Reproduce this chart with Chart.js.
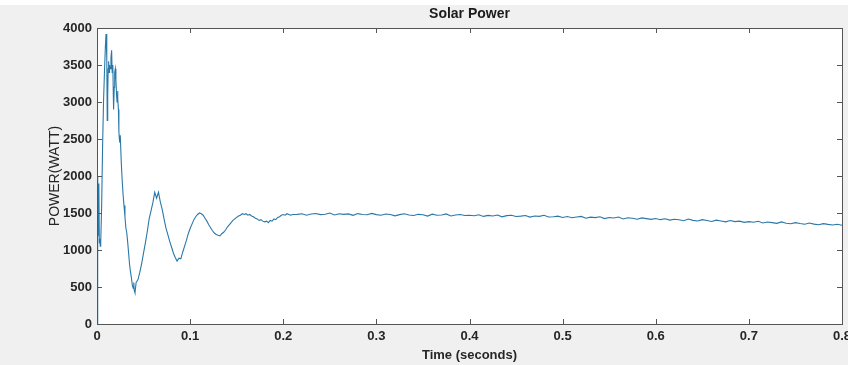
<!DOCTYPE html>
<html lang="en">
<head>
<meta charset="UTF-8">
<title>Solar Power</title>
<script src="https://cdn.jsdelivr.net/npm/chart.js@4.4.1/dist/chart.umd.min.js"></script>
<style>
  html, body { margin: 0; padding: 0; background: #f0f0f0; }
  #wrap { width: 848px; height: 365px; }
</style>
</head>
<body>
<div id="wrap"><canvas id="grafico" width="848" height="365"></canvas></div>
<script>
// start-up transient (s, W)
const timeA = [0, 0.0005, 0.001, 0.0015, 0.002, 0.0025, 0.003, 0.0035, 0.004, 0.005,
  0.006, 0.007, 0.008, 0.009, 0.0097, 0.0105, 0.011, 0.0115, 0.012, 0.0125,
  0.013, 0.0135, 0.014, 0.015, 0.0157, 0.0163, 0.017, 0.0178, 0.0185, 0.019,
  0.0197, 0.0203, 0.021, 0.0215, 0.022, 0.0225, 0.023, 0.0235, 0.024, 0.0245,
  0.025, 0.026, 0.027, 0.028, 0.029, 0.030, 0.031, 0.032, 0.033, 0.034,
  0.035, 0.036, 0.037, 0.038, 0.039, 0.0395, 0.040, 0.0408, 0.0415];
const powerA = [0, 1900, 2000, 1200, 1900, 1100, 1150, 1050, 1100, 1600,
  2400, 3000, 3400, 3750, 3920, 3600, 2750, 3100, 3450, 3550,
  3400, 3500, 3450, 3600, 3700, 3400, 3500, 2900, 3200, 3400,
  3450, 3300, 3100, 3000, 3150, 3050, 2900, 2600, 2500, 2450,
  2550, 2200, 1950, 1750, 1600, 1450, 1300, 1230, 1100, 950,
  800, 700, 620, 520, 480, 560, 450, 420, 500];

// damped oscillation
const timeB = [0.042, 0.044, 0.046, 0.048, 0.050, 0.052, 0.054, 0.056, 0.058, 0.060,
  0.062, 0.064, 0.066, 0.068, 0.070, 0.072, 0.074, 0.076, 0.078, 0.080,
  0.082, 0.084, 0.086, 0.088, 0.090, 0.092, 0.094, 0.096, 0.098, 0.100,
  0.102, 0.104, 0.106, 0.108, 0.110, 0.112, 0.114, 0.116, 0.118, 0.120,
  0.122, 0.124, 0.126, 0.128, 0.130, 0.132, 0.134, 0.136, 0.138, 0.140,
  0.142, 0.144, 0.146, 0.148, 0.150, 0.152, 0.154, 0.156, 0.158, 0.160,
  0.162, 0.164, 0.166, 0.168, 0.170, 0.172, 0.174, 0.176, 0.178, 0.180,
  0.182, 0.184, 0.186, 0.188, 0.190, 0.192, 0.194, 0.196, 0.198, 0.200,
  0.202, 0.204, 0.206, 0.208, 0.210];
const powerB = [560, 600, 700, 820, 960, 1100, 1250, 1420, 1530, 1640,
  1780, 1700, 1780, 1650, 1550, 1420, 1300, 1210, 1120, 1040,
  960, 900, 850, 890, 880, 970, 1050, 1130, 1220, 1290,
  1350, 1410, 1450, 1480, 1500, 1490, 1470, 1430, 1390, 1340,
  1300, 1260, 1230, 1210, 1200, 1190, 1220, 1240, 1270, 1310,
  1340, 1370, 1400, 1420, 1440, 1460, 1470, 1490, 1480, 1490,
  1470, 1480, 1460, 1450, 1430, 1420, 1400, 1410, 1390, 1380,
  1390, 1370, 1400, 1390, 1420, 1410, 1440, 1450, 1470, 1480,
  1470, 1490, 1480, 1470, 1480];

// slow drift with ripple
const timeC = [0.215, 0.220, 0.225, 0.230, 0.235, 0.240, 0.245, 0.250, 0.255, 0.260,
  0.265, 0.270, 0.275, 0.280, 0.285, 0.290, 0.295, 0.300,
  0.305, 0.310, 0.315, 0.320, 0.325, 0.330, 0.335, 0.340, 0.345, 0.350,
  0.355, 0.360, 0.365, 0.370, 0.375, 0.380, 0.385, 0.390, 0.395, 0.400,
  0.405, 0.410, 0.415, 0.420, 0.425, 0.430, 0.435, 0.440, 0.445, 0.450,
  0.455, 0.460, 0.465, 0.470, 0.475, 0.480, 0.485, 0.490, 0.495, 0.500,
  0.505, 0.510, 0.515, 0.520, 0.525, 0.530, 0.535, 0.540, 0.545, 0.550,
  0.555, 0.560, 0.565, 0.570, 0.575, 0.580, 0.585, 0.590, 0.595, 0.600,
  0.605, 0.610, 0.615, 0.620, 0.625, 0.630, 0.635, 0.640, 0.645, 0.650,
  0.655, 0.660, 0.665, 0.670, 0.675, 0.680, 0.685, 0.690, 0.695, 0.700,
  0.705, 0.710, 0.715, 0.720, 0.725, 0.730, 0.735, 0.740, 0.745, 0.750,
  0.755, 0.760, 0.765, 0.770, 0.775, 0.780, 0.785, 0.790, 0.795, 0.800];
const powerC = [1482, 1490, 1470, 1486, 1494, 1478, 1484, 1500, 1474, 1490,
  1482, 1488, 1468, 1492, 1480, 1476, 1494, 1478,
  1470, 1486, 1480, 1462, 1478, 1490, 1472, 1466, 1482, 1476,
  1458, 1484, 1470, 1474, 1488, 1460, 1472, 1480, 1466, 1470,
  1462, 1476, 1454, 1468, 1460, 1472, 1448, 1464, 1470, 1452,
  1458, 1466, 1444, 1460, 1454, 1470, 1446, 1450, 1458, 1440,
  1452, 1436, 1446, 1454, 1430, 1444, 1438, 1450, 1424, 1440,
  1432, 1446, 1420, 1436, 1428, 1416, 1434, 1424, 1414, 1426,
  1410, 1422, 1404, 1416, 1408, 1396, 1418, 1400, 1392, 1410,
  1398, 1386, 1404, 1392, 1380, 1398, 1384, 1390, 1374, 1384,
  1376, 1388, 1366, 1378, 1370, 1360, 1380, 1362, 1354, 1370,
  1358, 1348, 1364, 1350, 1342, 1356, 1346, 1338, 1348, 1334];

const xTicks = [0, 0.1, 0.2, 0.3, 0.4, 0.5, 0.6, 0.7, 0.8];
const yTicks = [0, 500, 1000, 1500, 2000, 2500, 3000, 3500, 4000];

const puntos = [];
[[timeA, powerA], [timeB, powerB], [timeC, powerC]].forEach(([t, p]) => {
  if (t.length !== p.length) console.warn('length mismatch', t.length, p.length);
  t.forEach((v, i) => puntos.push({ x: v, y: p[i] }));
});

const ejeColor = '#555555';
const textoColor = '#262626';

// matlab style: grey figure, white axes, box with inward ticks, title over the axes
const cajaMatlab = {
  id: 'cajaMatlab',
  beforeDraw(chart) {
    const { ctx, chartArea: a, width, height } = chart;
    ctx.save();
    ctx.fillStyle = '#f0f0f0';
    ctx.fillRect(0, 0, width, height);
    ctx.fillStyle = '#ffffff';
    ctx.fillRect(0, 0, width, 5);
    ctx.fillRect(a.left, a.top, a.right - a.left, a.bottom - a.top);
    ctx.restore();
  },
  afterDraw(chart) {
    const { ctx, chartArea: a, scales } = chart;
    const largo = 5;
    ctx.save();
    ctx.strokeStyle = ejeColor;
    ctx.lineWidth = 1;
    ctx.strokeRect(Math.round(a.left) + 0.5, Math.round(a.top) + 0.5,
      Math.round(a.right - a.left), Math.round(a.bottom - a.top));
    ctx.beginPath();
    xTicks.forEach(v => {
      const x = Math.round(scales.x.getPixelForValue(v)) + 0.5;
      ctx.moveTo(x, a.bottom); ctx.lineTo(x, a.bottom - largo);
      ctx.moveTo(x, a.top); ctx.lineTo(x, a.top + largo);
    });
    yTicks.forEach(v => {
      const y = Math.round(scales.y.getPixelForValue(v)) + 0.5;
      ctx.moveTo(a.left, y); ctx.lineTo(a.left + largo, y);
      ctx.moveTo(a.right, y); ctx.lineTo(a.right - largo, y);
    });
    ctx.stroke();
    ctx.fillStyle = '#1a1a1a';
    ctx.font = 'bold 14px "Liberation Sans", Arial, sans-serif';
    ctx.textAlign = 'center';
    ctx.textBaseline = 'middle';
    ctx.fillText('Solar Power', (a.left + a.right) / 2, 14);
    ctx.restore();
  }
};

new Chart(document.getElementById('grafico'), {
  type: 'line',
  data: {
    datasets: [{
      label: 'Solar Power',
      data: puntos,
      borderColor: '#2a78a8',
      borderWidth: 1.1,
      pointRadius: 0,
      tension: 0,
      fill: false
    }]
  },
  options: {
    responsive: false,
    animation: false,
    layout: { padding: { top: 28, right: 6, bottom: 0, left: 0 } },
    plugins: { legend: { display: false }, tooltip: { enabled: false }, title: { display: false } },
    scales: {
      x: {
        type: 'linear', min: 0, max: 0.8,
        afterBuildTicks: s => { s.ticks = xTicks.map(v => ({ value: v })); },
        afterFit: s => { s.height = 41; s.paddingLeft = 0; s.paddingRight = 0; },
        grid: { drawOnChartArea: false, drawTicks: false },
        border: { display: false },
        ticks: {
          padding: 5, color: textoColor, maxRotation: 0,
          font: { family: '"Liberation Sans", Arial, sans-serif', size: 13, weight: 'bold' },
          callback: v => String(v)
        },
        title: {
          display: true, text: 'Time (seconds)', color: textoColor,
          font: { family: '"Liberation Sans", Arial, sans-serif', size: 13, weight: 'bold' },
          padding: { top: 0, bottom: 2 }
        }
      },
      y: {
        min: 0, max: 4000,
        afterBuildTicks: s => { s.ticks = yTicks.map(v => ({ value: v })); },
        afterFit: s => { s.width = 97; s.paddingTop = 0; s.paddingBottom = 0; },
        grid: { drawOnChartArea: false, drawTicks: false },
        border: { display: false },
        ticks: {
          padding: 5, color: textoColor,
          font: { family: '"Liberation Sans", Arial, sans-serif', size: 13, weight: 'bold' },
          callback: v => String(v)
        },
        title: {
          display: true, text: 'POWER(WATT)', color: textoColor,
          font: { family: '"Liberation Sans", Arial, sans-serif', size: 14, weight: 'normal' },
          padding: { top: 47, bottom: 0 }
        }
      }
    }
  },
  plugins: [cajaMatlab]
});
</script>
</body>
</html>
